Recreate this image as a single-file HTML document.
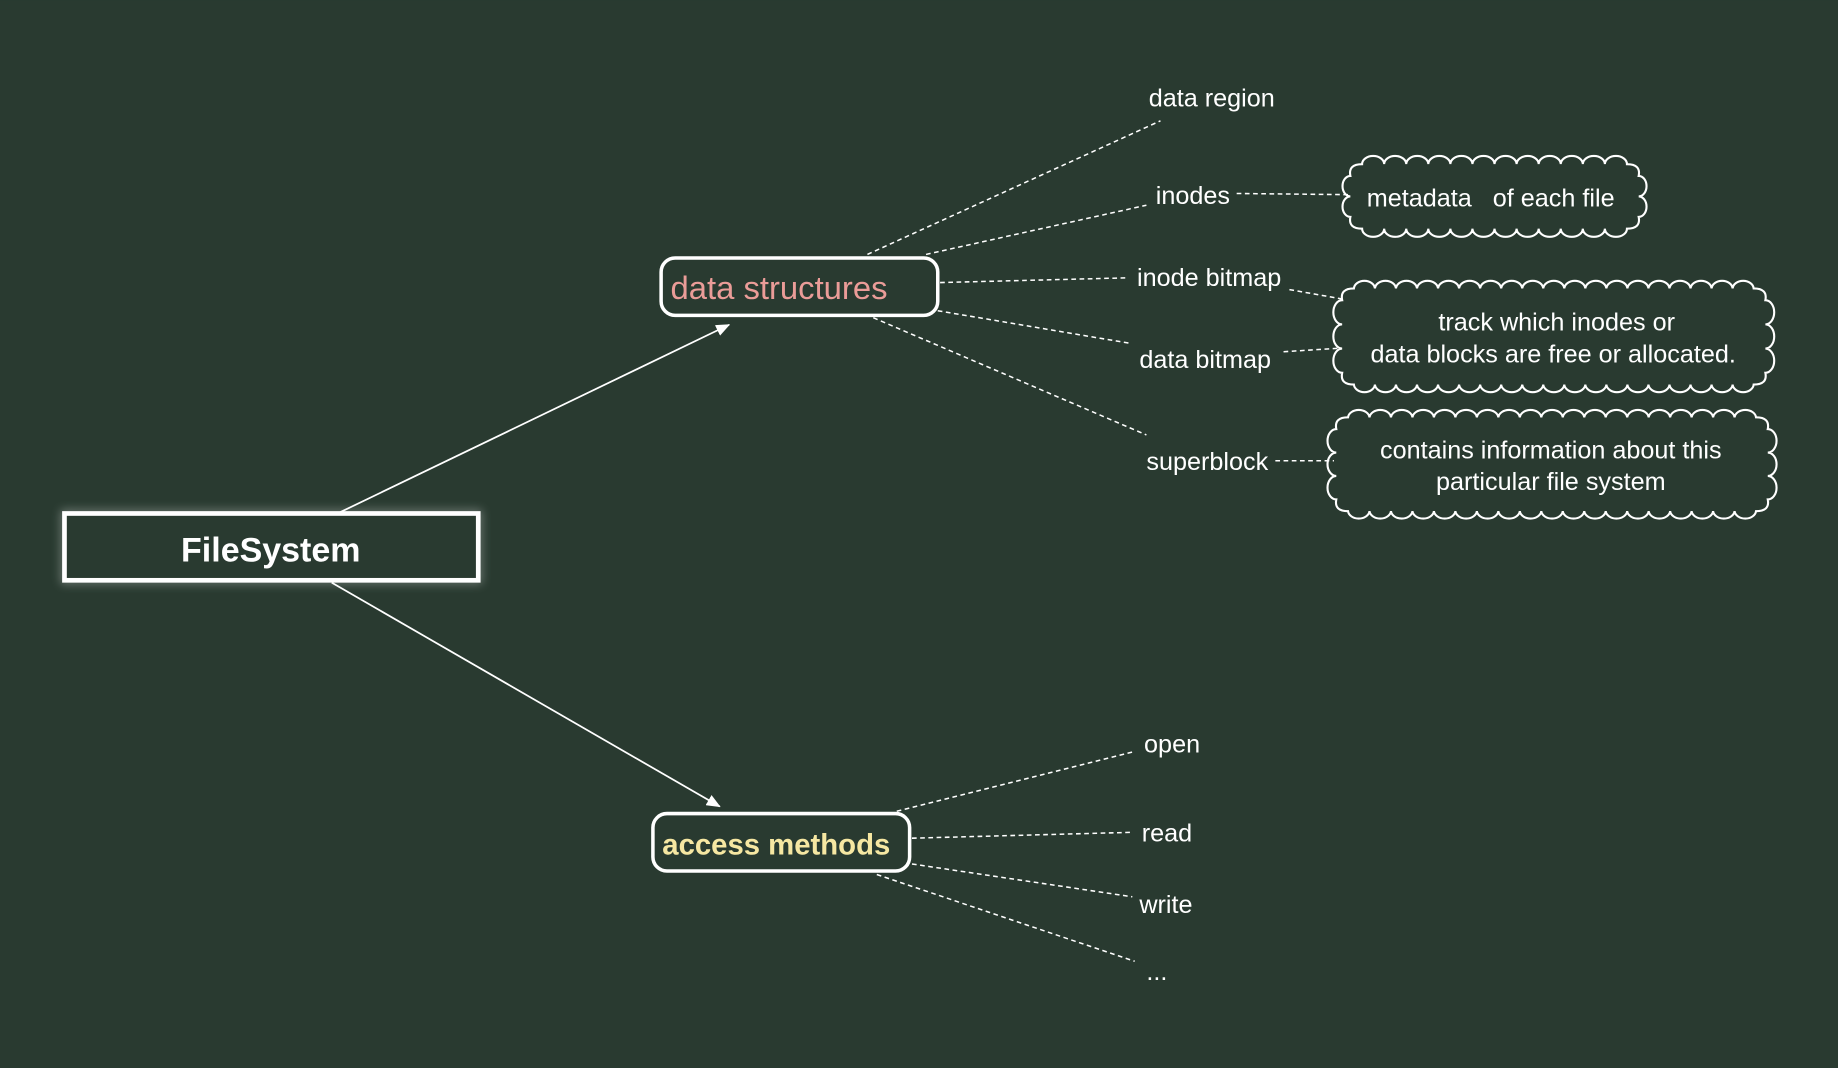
<!DOCTYPE html>
<html><head><meta charset="utf-8"><style>
html,body{margin:0;padding:0;background:#293a30;}
svg{display:block}
text{font-family:"Comic Sans MS","Liberation Sans",sans-serif;fill:#fff}
</style></head><body>
<svg width="1838" height="1068" viewBox="0 0 1568 911" xmlns="http://www.w3.org/2000/svg">
<defs>
<marker id="ar" markerWidth="12" markerHeight="10" refX="11" refY="5" orient="auto" markerUnits="userSpaceOnUse">
<path d="M0,0 L12,5 L0,10 z" fill="#fff"/></marker>
<filter id="gl" x="-20%" y="-40%" width="140%" height="180%"><feGaussianBlur stdDeviation="4"/></filter>
</defs>
<rect width="1568" height="911" fill="#293a30"/>
<rect x="55" y="438" width="353" height="57" fill="none" stroke="#fff" stroke-width="6" opacity="0.35" filter="url(#gl)"/>
<rect x="55" y="438" width="353" height="57" fill="#293a30" stroke="#fff" stroke-width="4"/>
<text x="231" y="479" font-size="29" font-weight="bold" text-anchor="middle">FileSystem</text>
<line x1="290" y1="437" x2="622" y2="277" stroke="#fff" stroke-width="1.5" marker-end="url(#ar)"/>
<line x1="283" y1="497" x2="614" y2="688" stroke="#fff" stroke-width="1.5" marker-end="url(#ar)"/>
<rect x="564" y="220" width="236" height="49" rx="12" fill="#293a30" stroke="#fff" stroke-width="3"/>
<text x="572" y="255" font-size="28" style="fill:#ea9c98">data structures</text>
<rect x="557" y="694" width="219" height="49" rx="12" fill="#293a30" stroke="#fff" stroke-width="3"/>
<text x="565" y="729" font-size="25" font-weight="bold" style="fill:#f6e7a2">access methods</text>
<g stroke="#fff" stroke-width="1.3" stroke-dasharray="4,3" fill="none">
<line x1="740" y1="217" x2="990" y2="103"/>
<line x1="790" y1="217" x2="978" y2="175"/>
<line x1="802" y1="241" x2="960" y2="237"/>
<line x1="800" y1="265" x2="965" y2="293"/>
<line x1="745" y1="271" x2="978" y2="371"/>
<line x1="1055" y1="165" x2="1150" y2="166"/>
<line x1="1100" y1="247" x2="1145" y2="255"/>
<line x1="1095" y1="300" x2="1143" y2="297"/>
<line x1="1088" y1="393" x2="1138" y2="393"/>
<line x1="765" y1="692" x2="968" y2="641"/>
<line x1="778" y1="715" x2="966" y2="710"/>
<line x1="778" y1="737" x2="966" y2="765"/>
<line x1="748" y1="746" x2="968" y2="820"/>
</g>
<g font-size="21.5">
<text x="980" y="91">data region</text>
<text x="986" y="174">inodes</text>
<text x="970" y="244">inode bitmap</text>
<text x="972" y="314">data bitmap</text>
<text x="978" y="401">superblock</text>
<text x="976" y="642">open</text>
<text x="974" y="718">read</text>
<text x="972" y="779">write</text>
<text x="978" y="836">...</text>
</g>
<g fill="none" stroke="#fff" stroke-width="1.8">
<path d="M1162,140 a9.4,7 0 0 1 18.83,0 a9.4,7 0 0 1 18.83,0 a9.4,7 0 0 1 18.83,0 a9.4,7 0 0 1 18.83,0 a9.4,7 0 0 1 18.83,0 a9.4,7 0 0 1 18.83,0 a9.4,7 0 0 1 18.83,0 a9.4,7 0 0 1 18.83,0 a9.4,7 0 0 1 18.83,0 a9.4,7 0 0 1 18.83,0 a9.4,7 0 0 1 18.83,0 a9.4,7 0 0 1 18.83,0 q12,0 10,10 a6.7,8.75 0 0 1 0,17.5 a6.7,8.75 0 0 1 0,17.5 q2,10 -10,10 a9.4,7 0 0 1 -18.83,0 a9.4,7 0 0 1 -18.83,0 a9.4,7 0 0 1 -18.83,0 a9.4,7 0 0 1 -18.83,0 a9.4,7 0 0 1 -18.83,0 a9.4,7 0 0 1 -18.83,0 a9.4,7 0 0 1 -18.83,0 a9.4,7 0 0 1 -18.83,0 a9.4,7 0 0 1 -18.83,0 a9.4,7 0 0 1 -18.83,0 a9.4,7 0 0 1 -18.83,0 a9.4,7 0 0 1 -18.83,0 q-12,0 -10,-10 a6.7,8.75 0 0 1 0,-17.5 a6.7,8.75 0 0 1 0,-17.5 q-2,-10 10,-10 z"/>
<path d="M1155,246 a9,7 0 0 1 17.95,0 a9,7 0 0 1 17.95,0 a9,7 0 0 1 17.95,0 a9,7 0 0 1 17.95,0 a9,7 0 0 1 17.95,0 a9,7 0 0 1 17.95,0 a9,7 0 0 1 17.95,0 a9,7 0 0 1 17.95,0 a9,7 0 0 1 17.95,0 a9,7 0 0 1 17.95,0 a9,7 0 0 1 17.95,0 a9,7 0 0 1 17.95,0 a9,7 0 0 1 17.95,0 a9,7 0 0 1 17.95,0 a9,7 0 0 1 17.95,0 a9,7 0 0 1 17.95,0 a9,7 0 0 1 17.95,0 a9,7 0 0 1 17.95,0 a9,7 0 0 1 17.95,0 q12,0 10,10 a7.5,10.3 0 0 1 0,20.67 a7.5,10.3 0 0 1 0,20.67 a7.5,10.3 0 0 1 0,20.67 q2,10 -10,10 a9,7 0 0 1 -17.95,0 a9,7 0 0 1 -17.95,0 a9,7 0 0 1 -17.95,0 a9,7 0 0 1 -17.95,0 a9,7 0 0 1 -17.95,0 a9,7 0 0 1 -17.95,0 a9,7 0 0 1 -17.95,0 a9,7 0 0 1 -17.95,0 a9,7 0 0 1 -17.95,0 a9,7 0 0 1 -17.95,0 a9,7 0 0 1 -17.95,0 a9,7 0 0 1 -17.95,0 a9,7 0 0 1 -17.95,0 a9,7 0 0 1 -17.95,0 a9,7 0 0 1 -17.95,0 a9,7 0 0 1 -17.95,0 a9,7 0 0 1 -17.95,0 a9,7 0 0 1 -17.95,0 a9,7 0 0 1 -17.95,0 q-12,0 -10,-10 a7.5,10.3 0 0 1 0,-20.67 a7.5,10.3 0 0 1 0,-20.67 a7.5,10.3 0 0 1 0,-20.67 q-2,-10 10,-10 z"/>
<path d="M1150,356 a9.2,7 0 0 1 18.32,0 a9.2,7 0 0 1 18.32,0 a9.2,7 0 0 1 18.32,0 a9.2,7 0 0 1 18.32,0 a9.2,7 0 0 1 18.32,0 a9.2,7 0 0 1 18.32,0 a9.2,7 0 0 1 18.32,0 a9.2,7 0 0 1 18.32,0 a9.2,7 0 0 1 18.32,0 a9.2,7 0 0 1 18.32,0 a9.2,7 0 0 1 18.32,0 a9.2,7 0 0 1 18.32,0 a9.2,7 0 0 1 18.32,0 a9.2,7 0 0 1 18.32,0 a9.2,7 0 0 1 18.32,0 a9.2,7 0 0 1 18.32,0 a9.2,7 0 0 1 18.32,0 a9.2,7 0 0 1 18.32,0 a9.2,7 0 0 1 18.32,0 q12,0 10,10 a7.5,10 0 0 1 0,20 a7.5,10 0 0 1 0,20 a7.5,10 0 0 1 0,20 q2,10 -10,10 a9.2,7 0 0 1 -18.32,0 a9.2,7 0 0 1 -18.32,0 a9.2,7 0 0 1 -18.32,0 a9.2,7 0 0 1 -18.32,0 a9.2,7 0 0 1 -18.32,0 a9.2,7 0 0 1 -18.32,0 a9.2,7 0 0 1 -18.32,0 a9.2,7 0 0 1 -18.32,0 a9.2,7 0 0 1 -18.32,0 a9.2,7 0 0 1 -18.32,0 a9.2,7 0 0 1 -18.32,0 a9.2,7 0 0 1 -18.32,0 a9.2,7 0 0 1 -18.32,0 a9.2,7 0 0 1 -18.32,0 a9.2,7 0 0 1 -18.32,0 a9.2,7 0 0 1 -18.32,0 a9.2,7 0 0 1 -18.32,0 a9.2,7 0 0 1 -18.32,0 a9.2,7 0 0 1 -18.32,0 q-12,0 -10,-10 a7.5,10 0 0 1 0,-20 a7.5,10 0 0 1 0,-20 a7.5,10 0 0 1 0,-20 q-2,-10 10,-10 z"/>
</g>
<g font-size="21.5">
<text x="1166" y="176">metadata&#160;&#160; of each file</text>
<text x="1328" y="282" text-anchor="middle">track which inodes or</text>
<text x="1325" y="309" text-anchor="middle">data blocks are free or allocated.</text>
<text x="1323" y="391" text-anchor="middle">contains information about this</text>
<text x="1323" y="418" text-anchor="middle">particular file system</text>
</g>
</svg>
</body></html>
